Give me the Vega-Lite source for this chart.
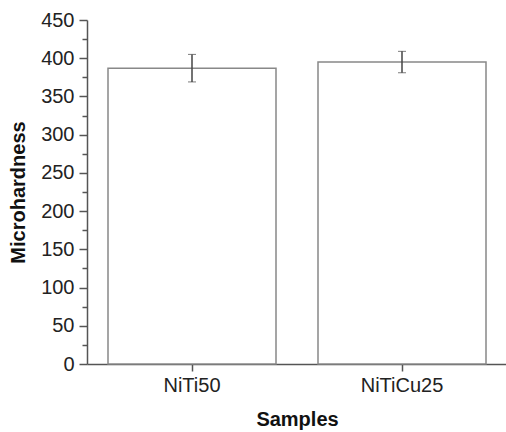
{
  "$schema": "https://vega.github.io/schema/vega-lite/v6.json",
  "autosize": "none",
  "width": 420,
  "height": 344,
  "padding": {"left": 87, "top": 20, "right": 0, "bottom": 68},
  "background": "white",
  "config": {
    "view": {"stroke": null},
    "font": "Liberation Sans",
    "axis": {"labelFont": "Liberation Sans", "titleFont": "Liberation Sans", "grid": false, "domainColor": "#555", "tickColor": "#555", "labelColor": "#222", "titleColor": "#111"}
  },
  "data": {"values": [
    {"sample": "NiTi50", "hardness": 387, "err": 18},
    {"sample": "NiTiCu25", "hardness": 395, "err": 14}
  ]},
  "encoding": {
    "x": {"field": "sample", "type": "nominal", "sort": null,
      "scale": {"paddingInner": 0.2, "paddingOuter": 0.1},
      "axis": {"title": "Samples", "labelAngle": 0, "labelFontSize": 20, "titleFontSize": 20, "titleFontWeight": "bold", "tickSize": 7, "domainWidth": 1.5, "tickWidth": 1.5, "labelPadding": 4, "titlePadding": 14}}
  },
  "layer": [
    {
      "mark": {"type": "bar", "fill": "white", "stroke": "#888", "strokeWidth": 1.5},
      "encoding": {
        "y": {"field": "hardness", "type": "quantitative",
          "scale": {"domain": [0, 450], "nice": false},
          "axis": {"title": "Microhardness", "values": [0, 50, 100, 150, 200, 250, 300, 350, 400, 450], "labelFontSize": 20, "titleFontSize": 20, "titleFontWeight": "bold", "tickSize": 8, "tickWidth": 1.5, "domainWidth": 1.5, "labelPadding": 5, "titlePadding": 12}}
      }
    },
    {
      "mark": {"type": "errorbar", "ticks": {"size": 8, "color": "#444"}, "rule": {"color": "#444", "strokeWidth": 1.5}},
      "encoding": {
        "y": {"field": "hardness", "type": "quantitative", "axis": null},
        "yError": {"field": "err"}
      }
    },
    {
      "mark": {"type": "point", "opacity": 0},
      "encoding": {
        "y": {"field": "hardness", "type": "quantitative",
          "axis": {"orient": "left", "values": [25, 75, 125, 175, 225, 275, 325, 375, 425], "labels": false, "domain": false, "title": null, "tickSize": 5, "tickWidth": 1.5, "tickColor": "#555"}}
      }
    }
  ],
  "resolve": {"axis": {"y": "independent"}}
}
